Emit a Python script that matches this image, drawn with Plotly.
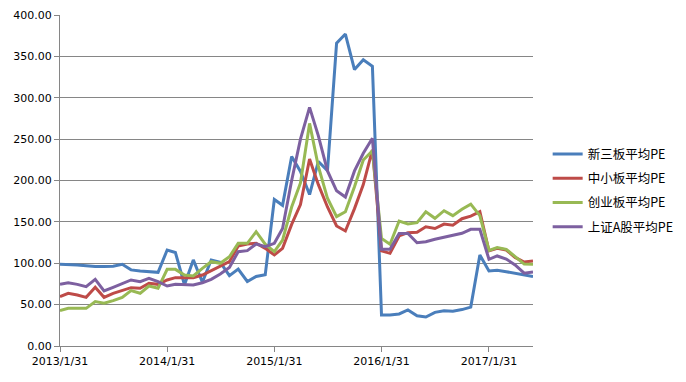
import pandas as pd
import plotly.graph_objects as go

dates = pd.date_range("2013-01-31", "2017-06-30", freq="ME")

names = ["新三板平均PE", "中小板平均PE", "创业板平均PE", "上证A股平均PE"]
colors = ["#4A7EBB", "#BE4B48", "#98B954", "#7D60A0"]

neeq_pe = [98.7, 98.5, 98, 97, 96, 96, 96.5, 98.7, 92, 90.5, 90, 89,
           116, 113, 74, 104, 77, 104, 101, 85, 93, 78, 84, 86,
           177, 170, 229, 211, 183, 223, 212, 366, 377, 334, 346, 338,
           37.5, 37.5, 38.7, 43.5, 36.6, 35, 40.7, 42.7, 42, 44, 47, 110,
           90.6, 91.5, 89.8, 87.8, 86, 84]
sme_pe = [59.6, 63.7, 61.6, 58.8, 70.9, 58.8, 63.7, 66.9, 70.5, 69.7, 75.8, 74.5,
          79.8, 82.6, 83, 82.6, 85.8, 91, 95.9, 101.9, 120.8, 123.3, 124.1, 118,
          110, 118, 147, 171, 226, 195, 168, 145, 139, 166, 195, 237,
          115, 112, 133, 137, 137.4, 144, 142, 147.4, 146, 153.8, 157, 162.3,
          115, 118, 116, 107, 101.5, 102.7]
gem_pe = [42.7, 45.5, 45.5, 45.5, 53.6, 51.6, 54.8, 58.8, 66.9, 63.7, 72.5, 69.7,
          92.6, 92.6, 85.8, 84.6, 93.9, 101.9, 99.9, 107.9, 124.1, 124.1, 138.1, 123,
          114, 128, 168, 197, 269, 217, 178.5, 156.3, 162.3, 192.5, 224.8, 236,
          130, 123, 151, 147.4, 149, 162.3, 154.3, 163.5, 157.5, 165.2, 171.4, 157.5,
          115.5, 119, 116.8, 108, 99, 98.7]
sh_a_pe = [74.5, 76.5, 74.5, 71.7, 80.6, 66.5, 70.9, 75.8, 79.8, 77.7, 81.8, 77.7,
           72.5, 74.5, 73.7, 73.7, 76.5, 80.6, 87, 95, 114, 115.2, 123.3, 120,
           124.1, 142, 200, 250, 288.4, 254, 211.6, 187.5, 180, 211.6, 232.9, 251,
           116.8, 116.8, 136, 136, 124.8, 126, 129, 131.4, 133.8, 136.2, 141, 141,
           104.8, 108.8, 105, 98, 88, 89.5]

tick_dates = ["2013-01-31", "2014-01-31", "2015-01-31", "2016-01-31", "2017-01-31"]
tick_labels = ["2013/1/31", "2014/1/31", "2015/1/31", "2016/1/31", "2017/1/31"]

series = [neeq_pe, sme_pe, gem_pe, sh_a_pe]

fig = go.Figure()
for i, (name, vals) in enumerate(zip(names, series)):
    fig.add_trace(go.Scatter(
        x=dates, y=vals, mode="lines", name=name, legendgroup=name,
        line=dict(color=colors[i], width=3),
    ))

# page body has an 8px margin; size the figure so it fits in the window
W, H = 670, 366
ml, mr, mt, mb = 51.5, 145, 7, 28

fig.update_layout(
    width=W, height=H,
    margin=dict(l=ml, r=mr, t=mt, b=mb, pad=0, autoexpand=False),
    paper_bgcolor="white", plot_bgcolor="white",
    font=dict(family="DejaVu Sans", size=11, color="#000000"),
    showlegend=True,
    legend=dict(
        x=1.031, y=0.47, xanchor="left", yanchor="middle",
        font=dict(family="Noto Sans CJK SC", size=12.5, color="#000000"),
        tracegroupgap=5, bgcolor="rgba(0,0,0,0)",
    ),
    xaxis=dict(
        type="date", range=[dates[0], dates[-1]],
        tickvals=tick_dates, ticktext=tick_labels,
        showgrid=False, showline=True, linecolor="#868686", linewidth=1,
        ticks="outside", ticklen=5, tickcolor="#868686",
        tickfont=dict(family="DejaVu Sans", size=11, color="#000000"),
        zeroline=False, automargin=False,
    ),
    yaxis=dict(
        range=[0, 400], dtick=50, tick0=0, tickformat=".2f",
        showgrid=True, gridcolor="#868686", gridwidth=1,
        showline=True, linecolor="#868686", linewidth=1,
        ticks="outside", ticklen=5, tickcolor="#868686",
        tickfont=dict(family="DejaVu Sans", size=11, color="#000000"),
        zeroline=False, automargin=False,
    ),
)

fig.write_html("out.html")
